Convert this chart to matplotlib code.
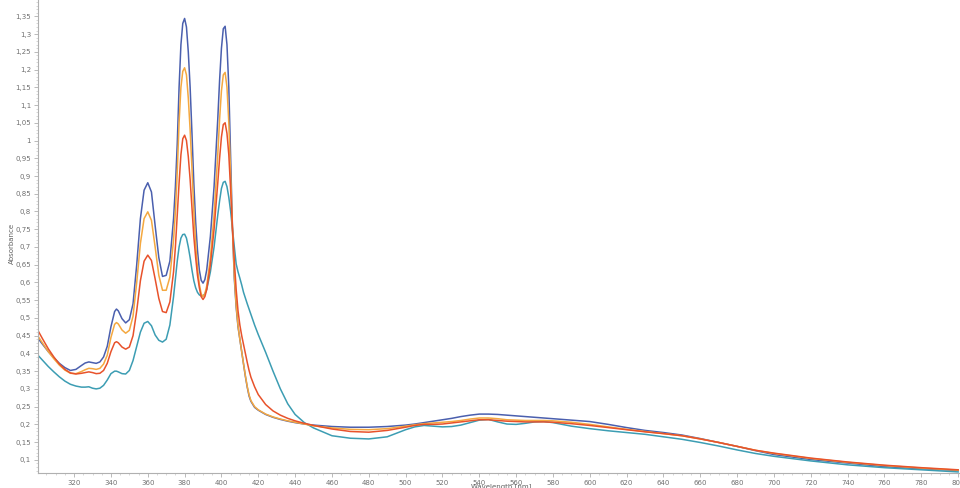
import matplotlib
matplotlib.use("Agg")
import matplotlib.pyplot as plt
from matplotlib.ticker import MultipleLocator, FuncFormatter

wavelength = [300, 303, 306, 309, 312, 315, 318, 321, 324, 326, 328, 330, 332, 334, 336, 338, 340, 342, 343, 344,
              346, 348, 350, 352, 354, 356, 358, 360, 362, 364, 366, 368, 370, 372, 374, 375, 376, 377, 378, 379,
              380, 381, 382, 383, 384, 385, 386, 387, 388, 389, 390, 391, 392, 394, 396, 398, 399, 400, 401, 402,
              403, 404, 405, 406, 407, 408, 409, 410, 411, 412, 413, 414, 415, 416, 418, 420, 424, 428, 432, 436,
              440, 445, 450, 460, 470, 480, 490, 500, 505, 510, 515, 520, 525, 530, 535, 540, 545, 550, 555, 560,
              565, 570, 575, 580, 590, 600, 610, 620, 630, 640, 650, 660, 670, 680, 690, 700, 720, 740, 760, 780, 800]

abs_blue = [.445, .425, .405, .388, .372, .360, .352, .355, .366, .373, .376, .374, .372, .376, .390, .420, .475, .518, .525, .520,
            .498, .486, .495, .540, .650, .780, .860, .881, .855, .760, .670, .617, .620, .660, .780, .870, .990, 1.150, 1.270, 1.330,
            1.344, 1.320, 1.250, 1.150, 1.020, .880, .770, .690, .635, .606, .598, .608, .635, .730, .870, 1.060, 1.170, 1.260, 1.315, 1.322,
            1.270, 1.150, .950, .750, .610, .530, .475, .440, .405, .370, .335, .305, .280, .265, .248, .240, .228, .220, .214, .209,
            .205, .201, .198, .194, .192, .192, .194, .198, .201, .205, .209, .213, .217, .222, .226, .229, .229, .228, .226, .224,
            .222, .220, .218, .216, .212, .208, .200, .191, .183, .177, .170, .160, .149, .138, .126, .115, .101, .091, .081, .075, .070]

abs_orange = [.452, .428, .405, .385, .367, .353, .344, .343, .349, .354, .358, .357, .355, .358, .370, .395, .445, .482, .487, .483,
              .466, .457, .465, .505, .600, .710, .780, .799, .775, .700, .620, .578, .578, .615, .720, .800, .910, 1.050, 1.150, 1.195,
              1.205, 1.185, 1.120, 1.030, .920, .800, .710, .640, .595, .568, .560, .568, .590, .670, .790, .960, 1.060, 1.140, 1.185, 1.192,
              1.150, 1.050, .900, .750, .620, .535, .478, .440, .405, .370, .337, .307, .283, .267, .250, .241, .229, .221, .215, .210,
              .206, .201, .196, .190, .186, .185, .188, .195, .199, .202, .204, .206, .208, .211, .215, .218, .218, .216, .213, .212,
              .211, .211, .211, .210, .206, .200, .193, .186, .180, .174, .168, .159, .149, .138, .127, .118, .104, .093, .084, .077, .071]

abs_red = [.468, .440, .413, .390, .370, .355, .345, .342, .344, .346, .348, .346, .343, .344, .352, .372, .405, .430, .433, .430,
           .418, .412, .418, .450, .520, .605, .660, .677, .662, .610, .555, .518, .515, .545, .630, .700, .790, .880, .960, 1.005,
           1.015, 1.000, .955, .890, .810, .730, .670, .620, .585, .560, .552, .560, .580, .650, .750, .880, .950, 1.010, 1.045, 1.050,
           1.020, .960, .860, .750, .660, .580, .520, .480, .450, .425, .400, .375, .352, .333, .306, .284, .256, .238, .226, .217,
           .210, .203, .197, .187, .180, .178, .183, .192, .197, .200, .200, .201, .204, .207, .210, .213, .213, .211, .209, .208,
           .207, .207, .207, .206, .202, .197, .191, .185, .179, .174, .168, .159, .149, .138, .127, .119, .105, .094, .085, .078, .072]

abs_teal = [.397, .380, .363, .348, .334, .322, .313, .308, .305, .305, .306, .302, .300, .302, .310, .325, .343, .350, .350, .348,
            .343, .342, .352, .380, .420, .460, .485, .490, .478, .452, .437, .432, .440, .480, .560, .610, .660, .700, .725, .735,
            .736, .725, .700, .670, .635, .605, .585, .572, .565, .562, .562, .568, .580, .630, .700, .790, .830, .865, .882, .885,
            .870, .840, .800, .750, .700, .652, .630, .612, .593, .572, .556, .540, .525, .510, .480, .453, .403, .350, .300, .258,
            .228, .205, .190, .168, .161, .159, .165, .185, .193, .197, .195, .193, .194, .198, .205, .212, .214, .207, .201, .200,
            .203, .207, .208, .205, .195, .188, .182, .177, .172, .165, .158, .149, .139, .128, .118, .110, .097, .086, .078, .072, .066]

series = [
    (abs_blue, "#4a5fae"),
    (abs_teal, "#3c9db3"),
    (abs_orange, "#f4a840"),
    (abs_red, "#e8522b"),
]

fig = plt.figure(figsize=(9.6, 4.88), dpi=100)
ax = fig.add_axes([38 / 960, 15 / 488, 1 - 38 / 960, 473 / 488])

for values, color in series:
    ax.plot(wavelength, values, color=color, lw=1.1, solid_joinstyle="round")

ax.set_xlim(300.4, 801)
ax.set_ylim(0.063, 1.396)

ax.xaxis.set_major_locator(MultipleLocator(20))
ax.xaxis.set_minor_locator(MultipleLocator(5))
ax.yaxis.set_minor_locator(MultipleLocator(0.01))
ax.set_yticks([v / 100 for v in range(10, 136, 5)])


def comma_fmt(v, pos):
    s = f"{v:.2f}".rstrip("0").rstrip(".")
    return s.replace(".", ",")


ax.yaxis.set_major_formatter(FuncFormatter(comma_fmt))
ax.xaxis.set_major_formatter(FuncFormatter(lambda v, p: f"{v:.0f}"))

for side in ("top", "right"):
    ax.spines[side].set_visible(False)
for side in ("left", "bottom"):
    ax.spines[side].set_color("#b0b0b0")
    ax.spines[side].set_linewidth(0.8)

ax.tick_params(axis="both", which="major", labelsize=5, colors="#b0b0b0",
               labelcolor="#707070", length=3, width=0.6, pad=2)
ax.tick_params(axis="both", which="minor", colors="#c8c8c8", length=1.5, width=0.5)

fig.text(12 / 960, 1 - 243 / 488, "Absorbance", rotation=90, ha="center", va="center",
         fontsize=5, color="#606060")
fig.text(501 / 960, 1 - 483 / 488, "Wavelength [nm]", ha="center", va="top",
         fontsize=5, color="#606060")

fig.savefig("out.png", dpi=100)
